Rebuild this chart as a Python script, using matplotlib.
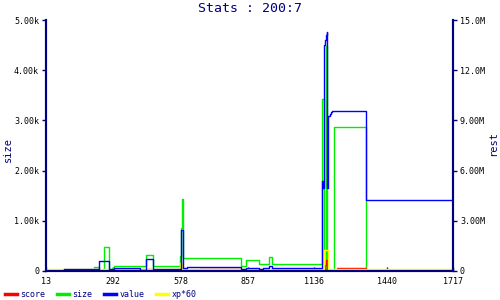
import matplotlib
matplotlib.use("Agg")
import matplotlib.pyplot as plt
from matplotlib.lines import Line2D

# step data (x = sample index)
score_x = [13, 236, 276, 439, 457, 658, 831, 1180, 1184, 1188, 1230, 1353, 1717]
score_y = [0, 15, 0, 30, 0, 35, 0, 120, 220, 0, 60, 0, 0]

size_x = [213, 236, 257, 276, 288, 298, 432, 460, 574, 578, 582, 586, 831, 852,
          906, 947, 960, 1167, 1177, 1184, 1188, 1219, 1353, 1717]
size_y = [75, 20, 470, 20, 50, 95, 310, 95, 290, 860, 1430, 255, 100, 215,
          140, 275, 140, 3430, 30, 4480, 20, 2860, 0, 0]

# value is on the "rest" axis, in millions
value_x = [87, 236, 276, 298, 407, 432, 460, 578, 586, 605, 831, 852, 906, 921,
           947, 960, 1167, 1172, 1176, 1180, 1184, 1188, 1191, 1195, 1200, 1205,
           1210, 1227, 1353, 1717]
value_m = [0.12, 0.6, 0.105, 0.18, 0.075, 0.72, 0.12, 2.445, 0.165, 0.24, 0.105,
           0.165, 0.105, 0.165, 0.3, 0.18, 5.4, 4.95, 13.5, 13.8, 14.1, 14.28,
           4.95, 9.285, 9.39, 9.48, 9.54, 9.585, 4.23, 4.23]

xp_x = [13, 574, 578, 580, 584, 586, 588, 1177, 1192, 1717]
xp_y = [30, 150, 30, 150, 30, 100, 30, 420, 30, 30]

x_ticks = [13, 292, 578, 857, 1136, 1440, 1717]
left_ticks = [0, 1000, 2000, 3000, 4000, 5000]
left_labels = ["0", "1.00k", "2.00k", "3.00k", "4.00k", "5.00k"]
right_ticks = [0, 3, 6, 9, 12, 15]
right_labels = ["0", "3.00M", "6.00M", "9.00M", "12.0M", "15.0M"]

NAVY = "#000080"
MONO = "DejaVu Sans Mono"

fig = plt.figure(figsize=(5, 3), dpi=100)
ax = fig.add_axes([0.092, 0.0967, 0.814, 0.8366])
ax2 = ax.twinx()

ax.step(size_x, size_y, where="post", color="#00ee00", lw=1.0)
ax.step(score_x, score_y, where="post", color="#ff0000", lw=1.0)
ax.step(xp_x, xp_y, where="post", color="#ffff00", lw=1.0)
ax2.step(value_x, value_m, where="post", color="#0000ff", lw=1.0)

ax.set_xlim(13, 1717)
ax.set_ylim(0, 5000)
ax2.set_ylim(0, 15)

ax.set_xticks(x_ticks)
ax.set_xticklabels([str(v) for v in x_ticks])
ax.set_yticks(left_ticks)
ax.set_yticklabels(left_labels)
ax2.set_yticks(right_ticks)
ax2.set_yticklabels(right_labels)

for a in (ax, ax2):
    a.spines["top"].set_visible(False)
    for s in ("left", "right", "bottom"):
        a.spines[s].set_color(NAVY)
        a.spines[s].set_linewidth(1.5)
    a.tick_params(colors=NAVY, labelcolor="black", labelsize=6, length=3, width=1)
    for lab in a.get_xticklabels() + a.get_yticklabels():
        lab.set_family(MONO)

ax.tick_params(axis="x", direction="in", pad=4)
ax.tick_params(axis="y", direction="out", pad=2)
ax2.tick_params(axis="y", direction="out", pad=2)

fig.text(0.5, 0.973, "Stats : 200:7", ha="center", va="center",
         color=NAVY, fontsize=9.5, family=MONO)
fig.text(0.016, 0.5, "size", ha="center", va="center", rotation=90,
         color=NAVY, fontsize=7.5, family=MONO)
fig.text(0.986, 0.52, "rest", ha="center", va="center", rotation=90,
         color=NAVY, fontsize=7.5, family=MONO)

handles = [Line2D([], [], color="#ff0000", lw=2.5),
           Line2D([], [], color="#00ee00", lw=2.5),
           Line2D([], [], color="#0000ff", lw=2.5),
           Line2D([], [], color="#ffff00", lw=2.5)]
leg = fig.legend(handles, ["score", "size", "value", "xp*60"], loc="center left",
                 bbox_to_anchor=(-0.005, 0.017), ncol=4, frameon=False,
                 handlelength=1.45, handletextpad=0.4, columnspacing=1.4,
                 prop={"family": MONO, "size": 6})
for t in leg.get_texts():
    t.set_color(NAVY)

fig.savefig("out.png", dpi=100)
